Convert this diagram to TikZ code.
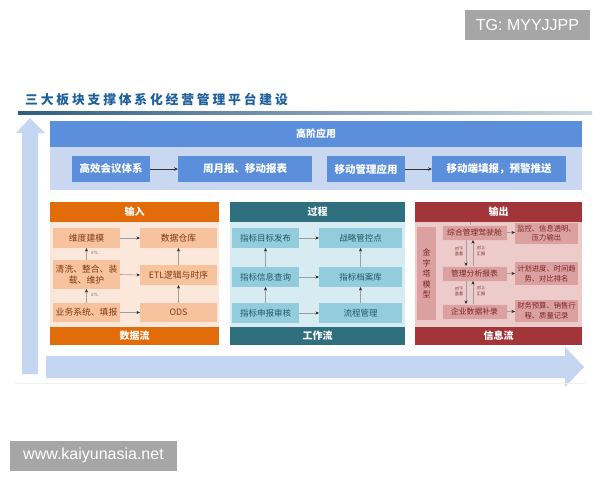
\documentclass[tikz,border=0pt]{standalone}
\usepackage{fontspec}
\setmainfont{Liberation Sans}
\newfontfamily\cjk{Noto Sans CJK SC}
\newfontfamily\cjktitle[LetterSpace=22]{Noto Sans CJK SC}
\usetikzlibrary{arrows.meta}
\definecolor{titleblue}{HTML}{1E5F9E}
\definecolor{lineblue}{HTML}{2E5F80}
\definecolor{bigarrow}{HTML}{C5D6F2}
\definecolor{topblue}{HTML}{5B8FDB}
\definecolor{topbody}{HTML}{C9D8F0}
\definecolor{inhead}{HTML}{E26B0A}
\definecolor{inbody}{HTML}{FCE8DA}
\definecolor{inbox}{HTML}{F7C39E}
\definecolor{intext}{HTML}{7F3A12}
\definecolor{prhead}{HTML}{2F6F7E}
\definecolor{prbody}{HTML}{D6ECF2}
\definecolor{prbox}{HTML}{93CDDD}
\definecolor{prtext}{HTML}{215867}
\definecolor{ouhead}{HTML}{A2353A}
\definecolor{oubody}{HTML}{ECCBCA}
\definecolor{oubox}{HTML}{DBA1A0}
\definecolor{outext}{HTML}{7B2424}
\definecolor{wmgray}{HTML}{A6A6A6}
\tikzset{
  base/.style={inner sep=0pt, outer sep=0pt, align=center},
  hdrfont/.style={font=\cjk\bfseries\fontsize{10}{12}\selectfont},
  tophdr/.style={base, fill=topblue, text=white, hdrfont, minimum width=532pt, minimum height=26pt},
  topbox/.style={base, fill=topblue, text=white, font=\cjk\bfseries\fontsize{10.5}{12}\selectfont, minimum height=26pt},
  panelhdr/.style={base, text=white, hdrfont, minimum height=20pt},
  inbx/.style={base, fill=inbox, text=intext, font=\cjk\fontsize{8.8}{11}\selectfont},
  prbx/.style={base, fill=prbox, text=prtext, font=\cjk\fontsize{8.5}{10}\selectfont, minimum height=20pt},
  oubx/.style={base, fill=oubox, text=outext, font=\cjk\fontsize{7.8}{9.5}\selectfont, draw=oubox!60!white, line width=0.8pt},
  ourbx/.style={base, fill=oubox, text=outext, font=\cjk\fontsize{7.3}{9.6}\selectfont, minimum width=63pt},
  tiny/.style={base, font=\cjk\fontsize{4.2}{5.2}\selectfont},
  arr/.style={draw=gray!75, line width=0.6pt, -{Stealth[length=3.5pt,width=3pt,color=black!85]}},
  toparr/.style={draw=gray!40!black, line width=0.7pt, -{Stealth[length=4pt,width=3.5pt]}},
  wm/.style={base, fill=wmgray, text=white, font=\fontsize{16}{18}\selectfont}
}
\begin{document}
\begin{tikzpicture}[x=1pt,y=-1pt]
\useasboundingbox (0,0) rectangle (600,480);
\fill[white] (0,0) rectangle (600,480);

% watermarks
\node[wm, minimum width=125pt, minimum height=30pt] (tg) at (527.5,25) {TG: MYYJJPP};
\node[wm, minimum width=167pt, minimum height=30pt] (www) at (93.5,455.5) {www.kaiyunasia.net};

% title
\node[anchor=west, inner sep=0pt, font=\cjktitle\bfseries\fontsize{12.8}{14}\selectfont, text=titleblue] (title) at (25,100) {三大板块支撑体系化经营管理平台建设};
\shade[left color=lineblue, right color=lineblue!25] (18,111.8) rectangle (592,114.6);

% big arrows
\fill[bigarrow] (22,374) -- (22,133) -- (16,133) -- (30,118) -- (45,133) -- (38,133) -- (38,374) -- cycle;
\fill[bigarrow] (46,356) -- (565,356) -- (565,347) -- (584,367) -- (565,387) -- (565,378) -- (46,378) -- cycle;
\draw[gray!12, line width=0.6pt] (15,383) -- (585,383);

% top panel
\node[base, fill=topbody, minimum width=532pt, minimum height=69pt] (topbg) at (316,155.5) {};
\node[tophdr] (tophead) at (316,134) {高阶应用};
\node[topbox, minimum width=78pt] (b1) at (111,169) {高效会议体系};
\node[topbox, minimum width=134pt] (b2) at (245,169) {周月报、移动报表};
\node[topbox, minimum width=78pt] (b3) at (366,169) {移动管理应用};
\node[topbox, minimum width=134pt] (b4) at (499,169) {移动端填报，预警推送};
\draw[toparr] (b1.east) -- (b2.west);
\draw[toparr] (b3.east) -- (b4.west);

% input panel
\node[base, fill=inbody, minimum width=169pt, minimum height=143pt] (inbg) at (134.5,273.5) {};
\node[panelhdr, fill=inhead, minimum width=169pt] (inh) at (134.5,212) {输入};
\node[panelhdr, fill=inhead, minimum width=169pt, minimum height=18pt] (inf) at (134.5,336) {数据流};
\node[inbx, minimum width=67pt, minimum height=20pt] (i1) at (86.5,238) {维度建模};
\node[inbx, minimum width=67pt, minimum height=29pt] (i2) at (86.5,274.5) {清洗、整合、装\\载、维护};
\node[inbx, minimum width=67pt, minimum height=19pt] (i3) at (86.5,312.5) {业务系统、填报};
\node[inbx, minimum width=77pt, minimum height=20pt] (o1) at (178.5,238) {数据仓库};
\node[inbx, minimum width=77pt, minimum height=20pt] (o2) at (178.5,275) {ETL逻辑与时序};
\node[inbx, minimum width=77pt, minimum height=19pt] (o3) at (178.5,312.5) {ODS};
\draw[arr] (i1.east) -- (o1.west);
\draw[arr] (i2.east) -- (o2.west);
\draw[arr] (i3.east) -- (o3.west);
\draw[arr] (i3.north) -- (i2.south);
\draw[arr] (i2.north) -- (i1.south);
\draw[arr] (o3.north) -- (o2.south);
\draw[arr] (o2.north) -- (o1.south);
\node[tiny, text=gray!80!black] (etl1) at (95,253) {ETL};
\node[tiny, text=gray!80!black] (etl2) at (95,295) {ETL};

% process panel
\node[base, fill=prbody, minimum width=175pt, minimum height=143pt] (prbg) at (317.5,273.5) {};
\node[panelhdr, fill=prhead, minimum width=175pt] (prh) at (317.5,212) {过程};
\node[panelhdr, fill=prhead, minimum width=175pt, minimum height=18pt] (prf) at (317.5,336) {工作流};
\node[prbx, minimum width=67pt] (p1) at (265.5,238) {指标目标发布};
\node[prbx, minimum width=67pt] (p2) at (265.5,277) {指标信息查询};
\node[prbx, minimum width=67pt] (p3) at (265.5,313) {指标申报审核};
\node[prbx, minimum width=83pt] (q1) at (360.5,238) {战略管控点};
\node[prbx, minimum width=83pt] (q2) at (360.5,277) {指标档案库};
\node[prbx, minimum width=83pt] (q3) at (360.5,313) {流程管理};
\draw[arr] (p1.east) -- (q1.west);
\draw[arr] (p2.east) -- (q2.west);
\draw[arr] (p3.east) -- (q3.west);
\draw[arr] (p3.north) -- (p2.south);
\draw[arr] (p2.north) -- (p1.south);
\draw[arr] (q3.north) -- (q2.south);
\draw[arr] (q2.north) -- (q1.south);

% output panel
\node[base, fill=oubody, minimum width=167pt, minimum height=143pt] (oubg) at (498.5,273.5) {};
\node[panelhdr, fill=ouhead, minimum width=167pt] (ouh) at (498.5,212) {输出};
\node[panelhdr, fill=ouhead, minimum width=167pt, minimum height=18pt] (ouf) at (498.5,336) {信息流};
\node[base, fill=oubox, text=outext, font=\cjk\fontsize{8}{10.5}\selectfont, minimum width=19pt, minimum height=93pt] (pyr) at (426.5,273.5) {金\\字\\塔\\模\\型};
\node[oubx, minimum width=65pt, minimum height=15pt] (l1) at (474.5,232.5) {综合管理驾驶舱};
\node[oubx, minimum width=65pt, minimum height=15pt] (l2) at (474.5,273.5) {管理分析报表};
\node[oubx, minimum width=65pt, minimum height=15pt] (l3) at (474.5,311.5) {企业数据补录};
\node[ourbx, minimum height=21pt] (r1) at (546.5,233) {监控、信息透明、\\压力输出};
\node[ourbx, minimum height=23pt] (r2) at (546.5,273.5) {计划进度、时间趋\\势、对比排名};
\node[ourbx, minimum height=22pt] (r3) at (546.5,311) {财务预算、销售行\\程、质量记录};
\draw[gray!70, line width=0.5pt] (ouh.south -| 470,0) -- (l1.north -| 470,0);
\draw[arr] (l1.east) -- (r1.west |- l1.east);
\draw[arr] (l2.east) -- (r2.west |- l2.east);
\draw[arr] (l3.east) -- (r3.west |- l3.east);
\draw[arr] ([xshift=-8.5pt]l1.south) -- ([xshift=-8.5pt]l2.north);
\draw[arr] ([xshift=-1.5pt]l2.north) -- ([xshift=-1.5pt]l1.south);
\draw[arr] ([xshift=-8.5pt]l2.south) -- ([xshift=-8.5pt]l3.north);
\draw[arr] ([xshift=-1.5pt]l3.north) -- ([xshift=-1.5pt]l2.south);
\node[tiny, text=outext] (d1) at (459,251) {对下\\监督};
\node[tiny, text=outext] (u1) at (481,251) {对上\\汇报};
\node[tiny, text=outext] (d2) at (459,291) {对下\\监督};
\node[tiny, text=outext] (u2) at (481,291) {对上\\汇报};
\end{tikzpicture}
\end{document}
